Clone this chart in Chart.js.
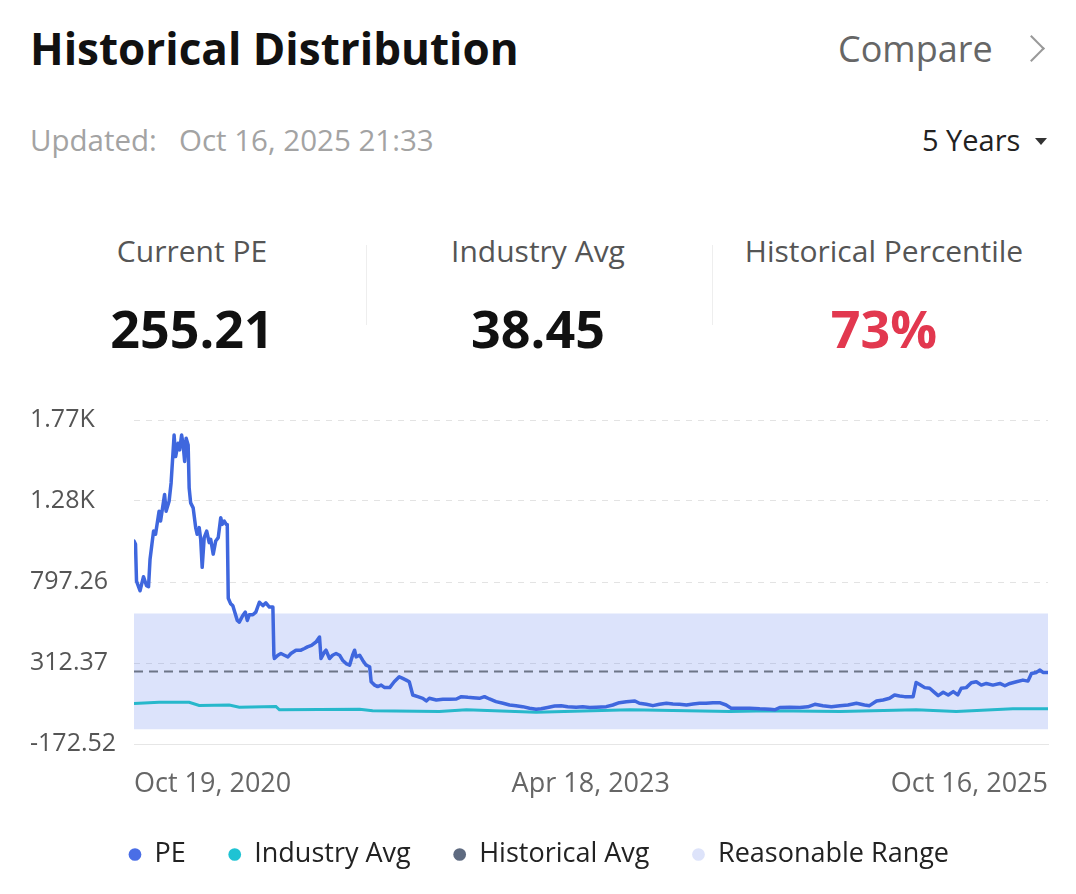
<!DOCTYPE html>
<html><head><meta charset="utf-8">
<script src="https://cdn.jsdelivr.net/npm/chart.js@4.4.1/dist/chart.umd.min.js"></script>
<style>
html,body{margin:0;padding:0;background:#fff;}
body{width:1076px;height:894px;position:relative;overflow:hidden;font-family:"Open Sans",sans-serif;}
.t{position:absolute;white-space:nowrap;}
.c{text-align:center;width:346px;}
</style></head><body>
<div class="t" style="left:30px;top:18px;line-height:60px;font-size:44px;font-weight:700;color:#111;">Historical Distribution</div>
<div class="t" style="left:838px;top:24px;line-height:50px;font-size:36px;color:#666;">Compare</div>
<div style="position:absolute;left:1022px;top:39px;width:17px;height:17px;border-top:2px solid #999;border-right:2px solid #999;transform:rotate(45deg);"></div>
<div class="t" style="left:30px;top:120px;line-height:40px;font-size:29.5px;color:#a3a3a3;">Updated:</div>
<div class="t" style="left:179px;top:120px;line-height:40px;font-size:29.5px;color:#a3a3a3;">Oct 16, 2025 21:33</div>
<div class="t" style="left:922px;top:120px;line-height:40px;font-size:29px;color:#222;">5 Years</div>
<div style="position:absolute;left:1035px;top:138px;width:0;height:0;border-left:6px solid transparent;border-right:6px solid transparent;border-top:7px solid #333;"></div>

<div class="t c" style="left:19px;top:231px;line-height:40px;font-size:30px;color:#555;">Current PE</div>
<div class="t c" style="left:365px;top:231px;line-height:40px;font-size:30px;color:#555;">Industry Avg</div>
<div class="t c" style="left:711px;top:231px;line-height:40px;font-size:30px;color:#555;">Historical Percentile</div>
<div class="t c" style="left:19px;top:296px;line-height:64px;font-size:52px;font-weight:700;color:#111;">255.21</div>
<div class="t c" style="left:365px;top:296px;line-height:64px;font-size:52px;font-weight:700;color:#111;">38.45</div>
<div class="t c" style="left:711px;top:296px;line-height:64px;font-size:52px;font-weight:700;color:#e2384f;">73%</div>
<div style="position:absolute;left:366px;top:245px;width:1px;height:80px;background:#eeeeee;"></div>
<div style="position:absolute;left:712px;top:245px;width:1px;height:80px;background:#eeeeee;"></div>

<canvas id="c" width="1076" height="488" style="position:absolute;left:0;top:390px;width:1076px;height:488px;"></canvas>
<script>
// ---- data ----
const xTickDays = [0, 911, 1823];
const xTickLabels = ["Oct 19, 2020", "Apr 18, 2023", "Oct 16, 2025"];
const yTicks = [-172.52, 312.37, 797.26, 1282.15, 1767.04];

const peDays = [0,3,5,12,19,25,29,32,39,43,50,53,61,64,70,74,80,83,88,91,95,98,101,104,108,110,113,118,123,126,130,133,136,140,145,150,153,158,163,168,173,176,180,184,186,188,193,197,200,204,206,210,217,222,226,230,237,243,250,257,263,270,277,279,280,287,293,300,307,313,323,333,340,346,354,363,370,373,380,383,390,396,403,410,416,423,430,436,440,443,450,456,463,470,473,480,486,493,500,510,519,529,536,543,549,556,566,576,583,589,603,616,629,643,653,666,676,689,699,709,722,736,749,762,775,789,802,812,825,839,852,865,882,895,909,922,942,955,968,982,999,1008,1022,1035,1048,1062,1075,1088,1102,1115,1128,1141,1155,1168,1181,1191,1208,1228,1248,1268,1278,1288,1308,1328,1344,1358,1374,1391,1408,1424,1441,1457,1467,1481,1494,1507,1517,1527,1537,1554,1560,1567,1577,1587,1597,1604,1614,1624,1634,1643,1650,1660,1670,1680,1690,1700,1713,1727,1737,1747,1760,1773,1783,1790,1800,1807,1813,1823];
const peValues = [1043,1023,803,745,829,775,769,934,1102,1083,1221,1162,1321,1221,1281,1390,1677,1548,1628,1588,1677,1618,1519,1658,1618,1361,1271,1241,1123,1083,1123,1053,885,1063,1102,1033,1053,964,1043,1063,1182,1142,1162,1142,1142,700,666,656,626,587,567,557,597,617,567,601,601,617,676,656,672,647,647,359,339,359,369,359,349,369,389,389,399,409,418,438,468,339,379,389,339,359,369,359,329,309,299,359,389,349,359,329,299,290,200,180,171,180,165,165,200,230,220,210,200,121,111,101,85,101,91,95,95,97,111,107,105,101,111,97,81,71,61,57,51,42,36,38,46,55,57,51,48,50,46,48,51,61,75,81,85,71,65,57,65,71,67,65,61,67,71,71,75,75,61,42,42,42,38,36,32,46,48,46,50,65,57,50,57,61,71,61,57,85,91,101,121,115,111,111,196,184,165,161,135,117,137,121,141,121,161,165,194,200,180,190,180,190,176,190,200,210,204,250,256,270,256,255.21];

const industryDays = [0,50,110,130,190,210,283,290,450,476,609,663,802,989,1189,1268,1408,1560,1640,1753,1823];
const industryValues = [70,77,77,58,61,48,52,32,36,26,22,32,18,32,22,26,22,32,22,38,38.45];

const historicalAvg = 262;
const rangeLow = -84;
const rangeHigh = 609;
const seriesLabels = ["PE", "Industry Avg", "Historical Avg", "Reasonable Range"];

// ---- styles ----
const legendColors = ["#4a6ee6", "#1fc3d3", "#5e6a80", "#dde3fa"];
const xMin = xTickDays[0], xMax = xTickDays[xTickDays.length - 1];
const pts = (xs, ys) => xs.map((d, i) => ({x: d, y: ys[i]}));
const fmt = v => Math.abs(v) >= 1000 ? (v / 1000).toFixed(2) + 'K' : Number(v).toFixed(2);

Chart.defaults.font.family = '"Open Sans", sans-serif';

new Chart(document.getElementById('c'), {
  type: 'line',
  data: {
    datasets: [
      {label: seriesLabels[0], data: pts(peDays, peValues), borderColor: '#3f67de', backgroundColor: '#3f67de', borderWidth: 3.5, pointRadius: 0, tension: 0, fill: false, borderJoinStyle: 'round', borderCapStyle: 'round'},
      {label: seriesLabels[1], data: pts(industryDays, industryValues), borderColor: '#27b8cb', backgroundColor: '#27b8cb', borderWidth: 3, pointRadius: 0, tension: 0, fill: false},
      {label: seriesLabels[2], data: pts([xMin, xMax], [historicalAvg, historicalAvg]), borderColor: '#6d7587', backgroundColor: '#6d7587', borderWidth: 2, borderDash: [9, 6], pointRadius: 0, fill: false},
      {label: seriesLabels[3], data: pts([xMin, xMax], [rangeHigh, rangeHigh]), borderColor: 'rgba(0,0,0,0)', borderWidth: 0, backgroundColor: 'rgba(92,122,238,0.21)', pointRadius: 0, fill: {value: rangeLow}}
    ]
  },
  options: {
    responsive: false,
    animation: false,
    events: [],
    layout: {padding: {left: 30, right: 28, top: 30, bottom: 0}},
    scales: {
      x: {
        type: 'linear', min: xMin, max: xMax,
        afterBuildTicks: s => { s.ticks = xTickDays.map(v => ({value: v})); },
        afterFit: s => { s.height = 54; },
        ticks: {align: 'inner', maxRotation: 0, autoSkip: false, padding: 24, font: {size: 27}, color: '#666',
          callback: v => xTickLabels[xTickDays.indexOf(v)]},
        grid: {display: false, drawTicks: false},
        border: {display: true, color: '#e6e6e6', width: 1}
      },
      y: {
        min: yTicks[0], max: yTicks[yTicks.length - 1],
        afterBuildTicks: s => { s.ticks = yTicks.map(v => ({value: v})); },
        afterFit: s => { s.width = 104; },
        ticks: {crossAlign: 'far', padding: 0, font: {size: 25}, color: '#555', callback: v => fmt(v)},
        grid: {color: '#e3e3e3', lineWidth: 1, drawTicks: false},
        border: {display: false, dash: [6, 6]}
      }
    },
    plugins: {
      tooltip: {enabled: false},
      legend: {
        position: 'bottom',
        labels: {
          usePointStyle: true, boxWidth: 12, boxHeight: 9, padding: 43,
          font: {size: 27}, color: '#222',
          generateLabels: chart => chart.data.datasets.map((ds, i) => ({
            text: ds.label, fillStyle: legendColors[i], strokeStyle: legendColors[i], lineWidth: 0,
            pointStyle: 'circle', hidden: false, datasetIndex: i, fontColor: '#222'
          }))
        }
      }
    }
  }
});
</script>
</body></html>
